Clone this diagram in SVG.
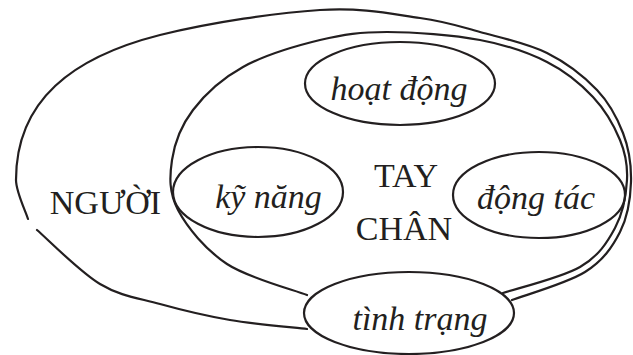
<svg xmlns="http://www.w3.org/2000/svg" width="633" height="355" viewBox="0 0 633 355">
  <style>
    .ln { fill: none; stroke: #231f20; stroke-width: 2.2; stroke-linecap: round; }
    .bub { fill: #ffffff; stroke: #231f20; stroke-width: 2.2; }
    .open { fill: none; stroke: #231f20; stroke-width: 2.2; }
    .up { font-family: "Liberation Serif", "Times New Roman", serif; font-size: 34px; fill: #231f20; text-anchor: middle; }
    .it { font-family: "Liberation Serif", "Times New Roman", serif; font-size: 34px; font-style: italic; fill: #231f20; text-anchor: middle; }
  </style>
  <rect width="633" height="355" fill="#ffffff"/>

  <!-- outer region: NGƯỜI -->
  <g id="nguoi">
    <path class="ln" d="M28,219 C26,212 16,192 16,180 C16,100 73,57 160,35 C213,22 276.7,12.8 320,10 C363.3,7.2 393.3,14.3 420,18 C446.7,21.7 458.8,26.2 480,32 C501.2,37.8 527.5,43.3 547,53 C566.5,62.7 584.3,76.7 597,90 C609.7,103.3 617.2,118 623,133 C628.8,148 631.5,163.5 631,182 C630.5,198 627.8,216.7 620,232 C612.2,247.3 603,260.7 585,272 C567,283.3 524.2,295.3 512,300"/>
    <path class="ln" d="M37,230 C47.5,239 79.5,271.7 100,284 C120.5,296.3 138.3,298 160,304 C181.7,310 205.5,315.8 230,320 C254.5,324.2 294.2,327.5 307,329"/>
    <text class="up" x="105.5" y="214">NGƯỜI</text>
  </g>

  <!-- inner region: TAY CHÂN -->
  <g id="tay-chan">
    <path class="ln" d="M307,295 C293.7,289.8 248.5,278.2 227,264 C205.5,249.8 187.2,227.3 178,210 C168.8,192.7 169.5,176.7 172,160 C174.5,143.3 181.2,125.5 193,110 C204.8,94.5 221.8,78.7 243,67 C264.2,55.3 296,45.8 320,40 C344,34.2 360.3,32 387,32 C413.7,32 453.3,35 480,40 C506.7,45 528.2,52.5 547,62 C565.8,71.5 580.8,84 593,97 C605.2,110 614.3,126.2 620,140 C625.7,153.8 627.8,165.3 627,180 C626.2,194.7 622.8,213.5 615,228 C607.2,242.5 598.7,256.2 580,267 C561.3,277.8 515.8,288.7 503,293"/>
    <text class="up" x="406" y="187">TAY</text>
    <text class="up" x="404" y="240">CHÂN</text>
  </g>

  <g id="hoat-dong">
    <ellipse class="open" cx="400" cy="83.5" rx="95" ry="41.5"/>
    <text class="it" x="399" y="100">hoạt động</text>
  </g>

  <g id="ky-nang">
    <ellipse class="open" cx="258" cy="192" rx="85" ry="45"/>
    <text class="it" x="268.5" y="208">kỹ năng</text>
  </g>

  <g id="dong-tac">
    <ellipse class="open" cx="539" cy="195" rx="86" ry="43"/>
    <text class="it" x="536" y="209">động tác</text>
  </g>

  <g id="tinh-trang">
    <ellipse class="bub" cx="409" cy="313" rx="105" ry="41"/>
    <text class="it" x="420" y="330">tình trạng</text>
  </g>
</svg>
